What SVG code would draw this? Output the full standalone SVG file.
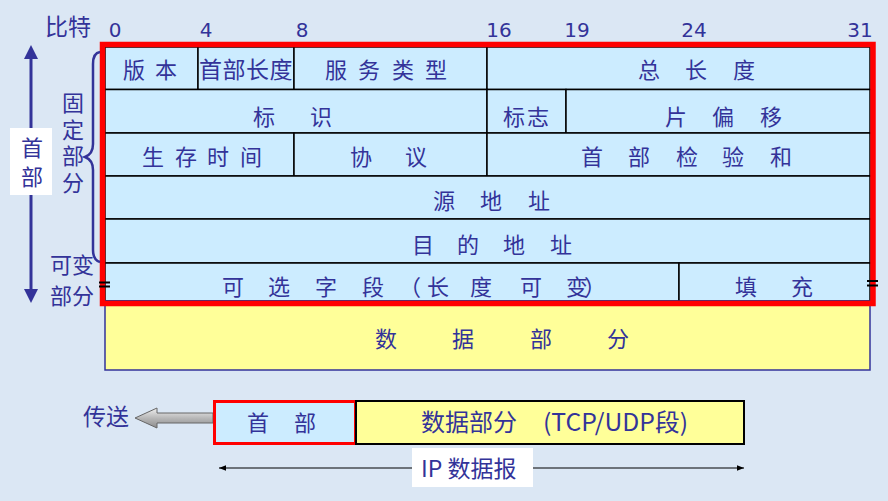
<svg xmlns="http://www.w3.org/2000/svg" width="888" height="501" viewBox="0 0 888 501">
<style>
.t{font-family:"Noto Sans CJK SC","Noto Sans",sans-serif;font-size:22px;fill:#333399}
.n{font-family:"DejaVu Sans","Liberation Sans",sans-serif;font-size:20px;fill:#333399}
.c{fill:#CCECFF;stroke:#000;stroke-width:1.5}
.y{fill:#FFFF99;stroke:#333399;stroke-width:1.5}
.b{fill:none;stroke:#333399;stroke-width:2.5}
</style>
<defs>
<linearGradient id="g" x1="0" y1="0" x2="0" y2="1">
<stop offset="0" stop-color="#f0f0f0"/><stop offset="0.5" stop-color="#b8b8b8"/><stop offset="1" stop-color="#8c8c8c"/>
</linearGradient>
<marker id="ah" viewBox="0 0 10 10" refX="10" refY="5" markerWidth="7" markerHeight="7" orient="auto-start-reverse" markerUnits="userSpaceOnUse">
<path d="M0,1 L10,5 L0,9 z" fill="#000"/>
</marker>
<marker id="bh" viewBox="0 0 10 10" refX="5" refY="5" markerWidth="14" markerHeight="14" orient="auto-start-reverse" markerUnits="userSpaceOnUse">
<path d="M0,0 L10,5 L0,10 z" fill="#333399"/>
</marker>
</defs>
<rect width="888" height="501" fill="#dbe7f4"/>

<g id="bits">
<text class="t" x="45" y="35" style="font-size:23px">比特</text>
<text class="n" x="115" y="37" text-anchor="middle">0</text>
<text class="n" x="206" y="37" text-anchor="middle">4</text>
<text class="n" x="302" y="37" text-anchor="middle">8</text>
<text class="n" x="499" y="37" text-anchor="middle">16</text>
<text class="n" x="577" y="37" text-anchor="middle">19</text>
<text class="n" x="694" y="37" text-anchor="middle">24</text>
<text class="n" x="860" y="37" text-anchor="middle">31</text>
</g>

<g id="version"><rect class="c" x="105" y="47" width="93" height="42.5"/><text class="t" x="123 155" y="78">版本</text></g>
<g id="ihl"><rect class="c" x="198" y="47" width="96" height="42.5"/><text class="t" x="199 222.5 246 269.5" y="78" style="font-size:23px">首部长度</text></g>
<g id="tos"><rect class="c" x="294" y="47" width="193" height="42.5"/><text class="t" x="325 358 392 425" y="78">服务类型</text></g>
<g id="totlen"><rect class="c" x="487" y="47" width="383" height="42.5"/><text class="t" x="638 685 733" y="78">总长度</text></g>

<g id="ident"><rect class="c" x="105" y="89.5" width="382" height="43.5"/><text class="t" x="253 310" y="125">标识</text></g>
<g id="flags"><rect class="c" x="487" y="89.5" width="79" height="43.5"/><text class="t" x="503 527" y="125">标志</text></g>
<g id="fragoff"><rect class="c" x="566" y="89.5" width="304" height="43.5"/><text class="t" x="665 712 760" y="125">片偏移</text></g>

<g id="ttl"><rect class="c" x="105" y="133" width="189" height="43"/><text class="t" x="142 175 207 240" y="165">生存时间</text></g>
<g id="proto"><rect class="c" x="294" y="133" width="193" height="43"/><text class="t" x="350 405" y="165">协议</text></g>
<g id="checksum"><rect class="c" x="487" y="133" width="383" height="43"/><text class="t" x="581 628 676 722 770" y="165">首部检验和</text></g>

<g id="src"><rect class="c" x="105" y="176" width="765" height="43"/><text class="t" x="433 480 528" y="209">源地址</text></g>
<g id="dst"><rect class="c" x="105" y="219" width="765" height="44"/><text class="t" x="412 457 503 550" y="253">目的地址</text></g>

<g id="options"><rect class="c" x="105" y="263" width="574" height="38"/><text class="t" x="222 268 315 362 399 427 470 520 566 584" y="295">可选字段（长度可变）</text></g>
<g id="padding"><rect class="c" x="679" y="263" width="191" height="38"/><text class="t" x="735 791" y="295">填充</text></g>

<g id="data"><rect class="y" x="105" y="301" width="765" height="69"/><text class="t" x="375 452 530 607" y="347">数据部分</text></g>

<g id="header-frame"><rect x="102.5" y="44.5" width="770.5" height="259" fill="none" stroke="#ff0000" stroke-width="5.5"/>
<path d="M99,282.5 h11 M99,286.5 h11 M867,281 h11 M867,285.5 h11" stroke="#000" stroke-width="2"/>
</g>

<g id="labels">
<text class="t" x="62 62 62 62" y="111 137.5 164 190.5">固定部分</text>
<text class="t" x="50" y="273">可变</text>
<text class="t" x="50" y="304">部分</text>
<path class="b" d="M100,52 Q93,53 93,64 L93,144 Q93,154 85,157 Q93,160 93,170 L93,250 Q93,260 100,262"/>
</g>

<g id="connectors">
<line x1="31" y1="52" x2="31" y2="296" stroke="#333399" stroke-width="3" marker-start="url(#bh)" marker-end="url(#bh)"/>
<path d="M135,418 L157,408 L157,413 L213,413 L213,423 L157,423 L157,428 Z" fill="url(#g)" stroke="#666" stroke-width="1"/>
<line x1="219" y1="468" x2="744" y2="468" stroke="#000" stroke-width="1.2" marker-start="url(#ah)" marker-end="url(#ah)"/>
</g>

<g id="header-label"><rect x="10" y="128" width="42" height="67" fill="#fff"/><text class="t" x="21" y="156">首</text><text class="t" x="21" y="185">部</text></g>

<g id="send"><text class="t" x="83" y="425" style="font-size:23px">传送</text></g>
<g id="pkt-header"><rect x="214.5" y="401.5" width="141" height="42" fill="#CCECFF" stroke="#ff0000" stroke-width="3"/><text class="t" x="247 294" y="431">首部</text></g>
<g id="pkt-data"><rect x="356" y="401" width="388" height="43" fill="#FFFF99" stroke="#000" stroke-width="2"/><text class="t" x="421" y="431" style="font-size:24px">数据部分</text><text class="t" x="543" y="431" style="font-size:24px" textLength="145" lengthAdjust="spacingAndGlyphs">(TCP/UDP段)</text></g>
<g id="ip-label"><rect x="412" y="448" width="121" height="39" fill="#fff"/><text class="t" x="421" y="477" style="font-size:23px">IP 数据报</text></g>
</svg>
